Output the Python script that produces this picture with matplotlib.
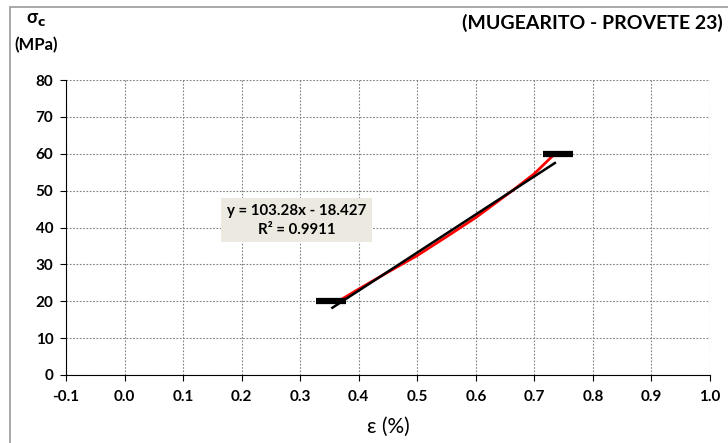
import matplotlib.pyplot as plt
from matplotlib.patches import Rectangle

plt.rcParams['font.family'] = ['Lato', 'DejaVu Sans']

# stress-strain curve (red)
strain = [0.365, 0.40, 0.45, 0.50, 0.55, 0.60, 0.665, 0.70, 0.735]
stress = [20.0, 23.3, 27.9, 32.4, 37.5, 42.7, 50.3, 54.6, 60.0]

# load limits (black dashes)
lim_x = [0.353, 0.74]
lim_y = [20, 60]

# linear fit
slope, intercept = 103.28, -18.427
fit_x = [0.355, 0.735]
fit_label = "y = 103.28x - 18.427\nR² = 0.9911"

xticks = [-0.1, 0.0, 0.1, 0.2, 0.3, 0.4, 0.5, 0.6, 0.7, 0.8, 0.9, 1.0]
yticks = [0, 10, 20, 30, 40, 50, 60, 70, 80]

fig = plt.figure(figsize=(7.28, 4.43), dpi=100)
ax = fig.add_axes([66/728, 1 - 375/443, (710-66)/728, (375-80)/443])

# outer frame
fig.patches.append(Rectangle((10/728, -0.01), 1.0, 1 - 7/443 + 0.01,
                             transform=fig.transFigure, fill=False,
                             edgecolor='#999999', linewidth=1.2))

ax.plot(strain, stress, color='red', linewidth=2, zorder=3)
fit_y = [slope * x + intercept for x in fit_x]
ax.plot(fit_x, fit_y, color='black', linewidth=1.8, zorder=4)
ax.scatter(lim_x, lim_y, marker='_', s=450, linewidths=4.5, color='black', zorder=5)

ax.set_xlim(-0.1, 1.0)
ax.set_ylim(0, 80)
ax.set_xticks(xticks)
ax.set_yticks(yticks)
ax.set_xticklabels([f"{v:.1f}" for v in xticks])
ax.grid(True, color='#808080', linestyle=(0, (1.5, 1.5)), linewidth=0.8)
ax.spines['top'].set_visible(False)
ax.spines['right'].set_visible(False)
ax.tick_params(axis='both', labelsize=11, length=4, width=0.8, direction='out')
for lbl in ax.get_xticklabels() + ax.get_yticklabels():
    lbl.set_fontweight('bold')
ax.tick_params(axis='x', pad=7)
ax.tick_params(axis='y', pad=5)

ax.text(0.294, 42, fit_label, ha='center', va='center', fontsize=10.8,
        fontweight='bold', linespacing=1.45,
        bbox=dict(boxstyle='square,pad=0.38', facecolor='#ECEAE0', edgecolor='none'),
        zorder=6)

fig.text(36/728, 1 - 19/443, "σ$_\\mathbf{c}$", ha='center', va='center',
         fontsize=13, fontweight='bold')
fig.text(36/728, 1 - 45/443, "(MPa)", ha='center', va='center',
         fontsize=12, fontweight='bold')
fig.text(723/728, 1 - 23/443, "(MUGEARITO - PROVETE 23)", ha='right', va='center',
         fontsize=14, fontweight='bold')
ax.set_xlabel("ε (%)", fontsize=15, labelpad=9)

fig.savefig('out.png', dpi=100)
